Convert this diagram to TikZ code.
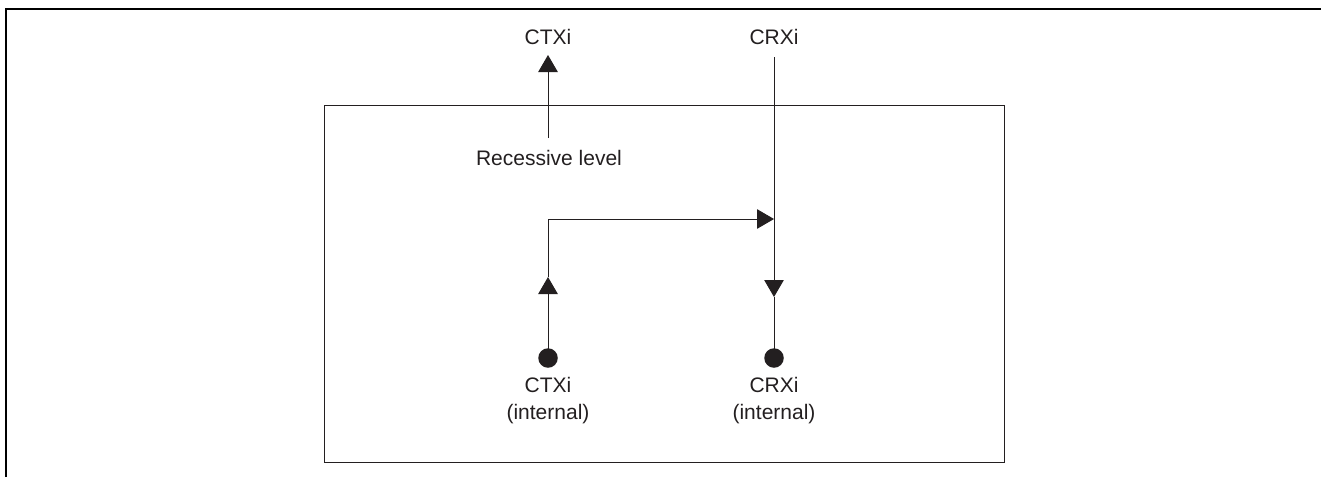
\documentclass[tikz,border=0pt]{standalone}
\usepackage{fontspec}
\setmainfont{Liberation Sans}
\usetikzlibrary{arrows.meta}
\definecolor{ink}{HTML}{231F20}
\begin{document}
\begin{tikzpicture}[x=0.5pt,y=-0.5pt,
  frame/.style={line width=1pt,draw=black},
  wire/.style={line width=0.5pt,draw=ink},
  arr/.style={wire,-{Triangle[length=8.5pt,width=9.75pt]}},
  lbl/.style={inner sep=0pt,text=ink,font=\fontsize{10.5}{13.5}\selectfont,align=center},
  dot/.style={circle,fill=ink,inner sep=0pt,minimum size=9.75pt}]
\useasboundingbox (0,0) rectangle (1321,477);
% outer frame (partial)
\draw[frame] (6,477) -- (6,9) -- (1321,9);
% inner box
\draw[wire] (324,105) rectangle (1004,462);
% top labels
\node[lbl] (ctxtop) at (548,37) {CTXi};
\node[lbl] (crxtop) at (774,37) {CRXi};
\node[lbl] (rec) at (549,158) {Recessive level};
% internal pins
\node[dot] (ctxdot) at (548,358) {};
\node[dot] (crxdot) at (774,358) {};
\node[lbl] (ctxint) at (548,401) {CTXi\\(internal)};
\node[lbl] (crxint) at (774,401) {CRXi\\(internal)};
% coordinates
\coordinate (recup) at (548,138);
\coordinate (ctxtip) at (548,55);
\coordinate (crxstart) at (774,57);
\coordinate (ctxmid) at (548,277);
\coordinate (corner) at (548,219);
\coordinate (junc) at (774,219);
\coordinate (crxmid) at (774,297);
% connectors
\draw[arr] (recup) -- (ctxtip);
\draw[arr] (ctxdot.center) -- (ctxmid);
\draw[arr] (ctxmid) -- (corner) -- (junc);
\draw[arr] (crxstart) -- (crxmid);
\draw[wire] (crxmid) -- (crxdot.center);
\end{tikzpicture}
\end{document}
